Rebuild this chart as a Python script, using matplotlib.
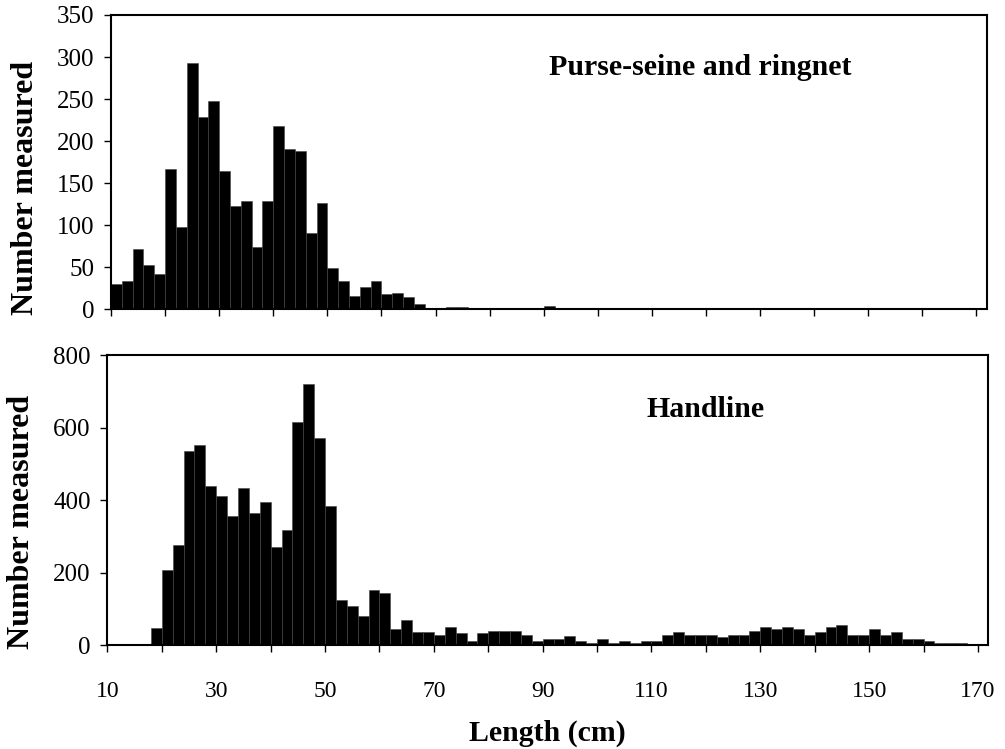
import numpy as np
import matplotlib
matplotlib.use("Agg")
import matplotlib.pyplot as plt

plt.rcParams['font.family'] = ['Liberation Serif', 'DejaVu Serif']

# length classes (cm), 2 cm bins from 10 to 168
length_classes = list(range(10, 170, 2))

# purse-seine and ringnet
purse_counts = [30, 34, 72, 53, 42, 167, 98, 293, 229, 248,
                165, 123, 129, 74, 129, 218, 191, 188, 91, 127,
                49, 34, 16, 27, 34, 18, 20, 15, 6, 1,
                0, 3, 3, 0, 0, 0, 0, 0, 0, 0,
                4] + [0] * 39

# handline
hand_counts = [0, 0, 0, 0,
               46, 207, 277, 536, 552, 439, 410, 355, 432, 365,
               394, 271, 316, 614, 719, 570, 383, 123, 108, 79,
               152, 144, 45, 68, 35, 35, 28, 51, 34, 12,
               34, 40, 40, 40, 28, 12, 18, 18, 24, 11,
               5, 18, 5, 12, 5, 12, 12, 29, 35, 29,
               29, 29, 23, 29, 29, 40, 51, 45, 51, 45,
               29, 35, 51, 55, 29, 29, 45, 29, 35, 18,
               18, 12, 5, 5, 5, 1]

x_ticks = list(range(10, 180, 10))
x_labels = [str(t) if (t - 10) % 20 == 0 else "" for t in x_ticks]

W, H = 1005, 749
fig = plt.figure(figsize=(W / 100, H / 100), dpi=100)
ax1 = fig.add_axes([0.1104, 0.587, 0.8720, 0.393])
ax2 = fig.add_axes([0.1069, 0.1388, 0.8759, 0.3872])

# axes, counts, ymax, ystep, title, title x/y (axes coords), xmax, ylabel centre (px)
panels = [
    (ax1, purse_counts, 350, 50, "Purse-seine and ringnet", 0.672, 0.796, 172.0, (26, 188)),
    (ax2, hand_counts, 800, 200, "Handline", 0.680, 0.786, 171.8, (22, 522)),
]

for ax, counts, ymax, ystep, title, tx, ty, xmax, (lx, ly) in panels:
    ax.bar(length_classes, counts, width=2, align='edge',
           color='black', edgecolor='#444444', linewidth=0.4)
    ax.set_xlim(10, xmax)
    ax.set_ylim(0, ymax)
    ax.set_yticks(range(0, ymax + 1, ystep))
    ax.set_xticks(x_ticks)
    for side in ax.spines.values():
        side.set_linewidth(1.5)
        side.set_color('black')
    ax.tick_params(axis='both', direction='out', length=5, width=1, colors='black')
    ax.tick_params(axis='y', labelsize=18, pad=7)
    ax.text(tx, ty, title, transform=ax.transAxes, ha='center', va='baseline',
            fontsize=21.5, fontweight='bold')
    fig.text(lx / W, 1 - ly / H, "Number measured", rotation=90,
             ha='center', va='center', fontsize=23, fontweight='bold')

ax1.set_xticklabels([""] * len(x_ticks))
ax2.set_xticklabels(x_labels)
ax2.tick_params(axis='x', labelsize=17, pad=21)
fig.text(547 / W, 1 - 741 / H, "Length (cm)", ha='center', va='baseline',
         fontsize=21.5, fontweight='bold')

fig.savefig("out.png", dpi=100)
